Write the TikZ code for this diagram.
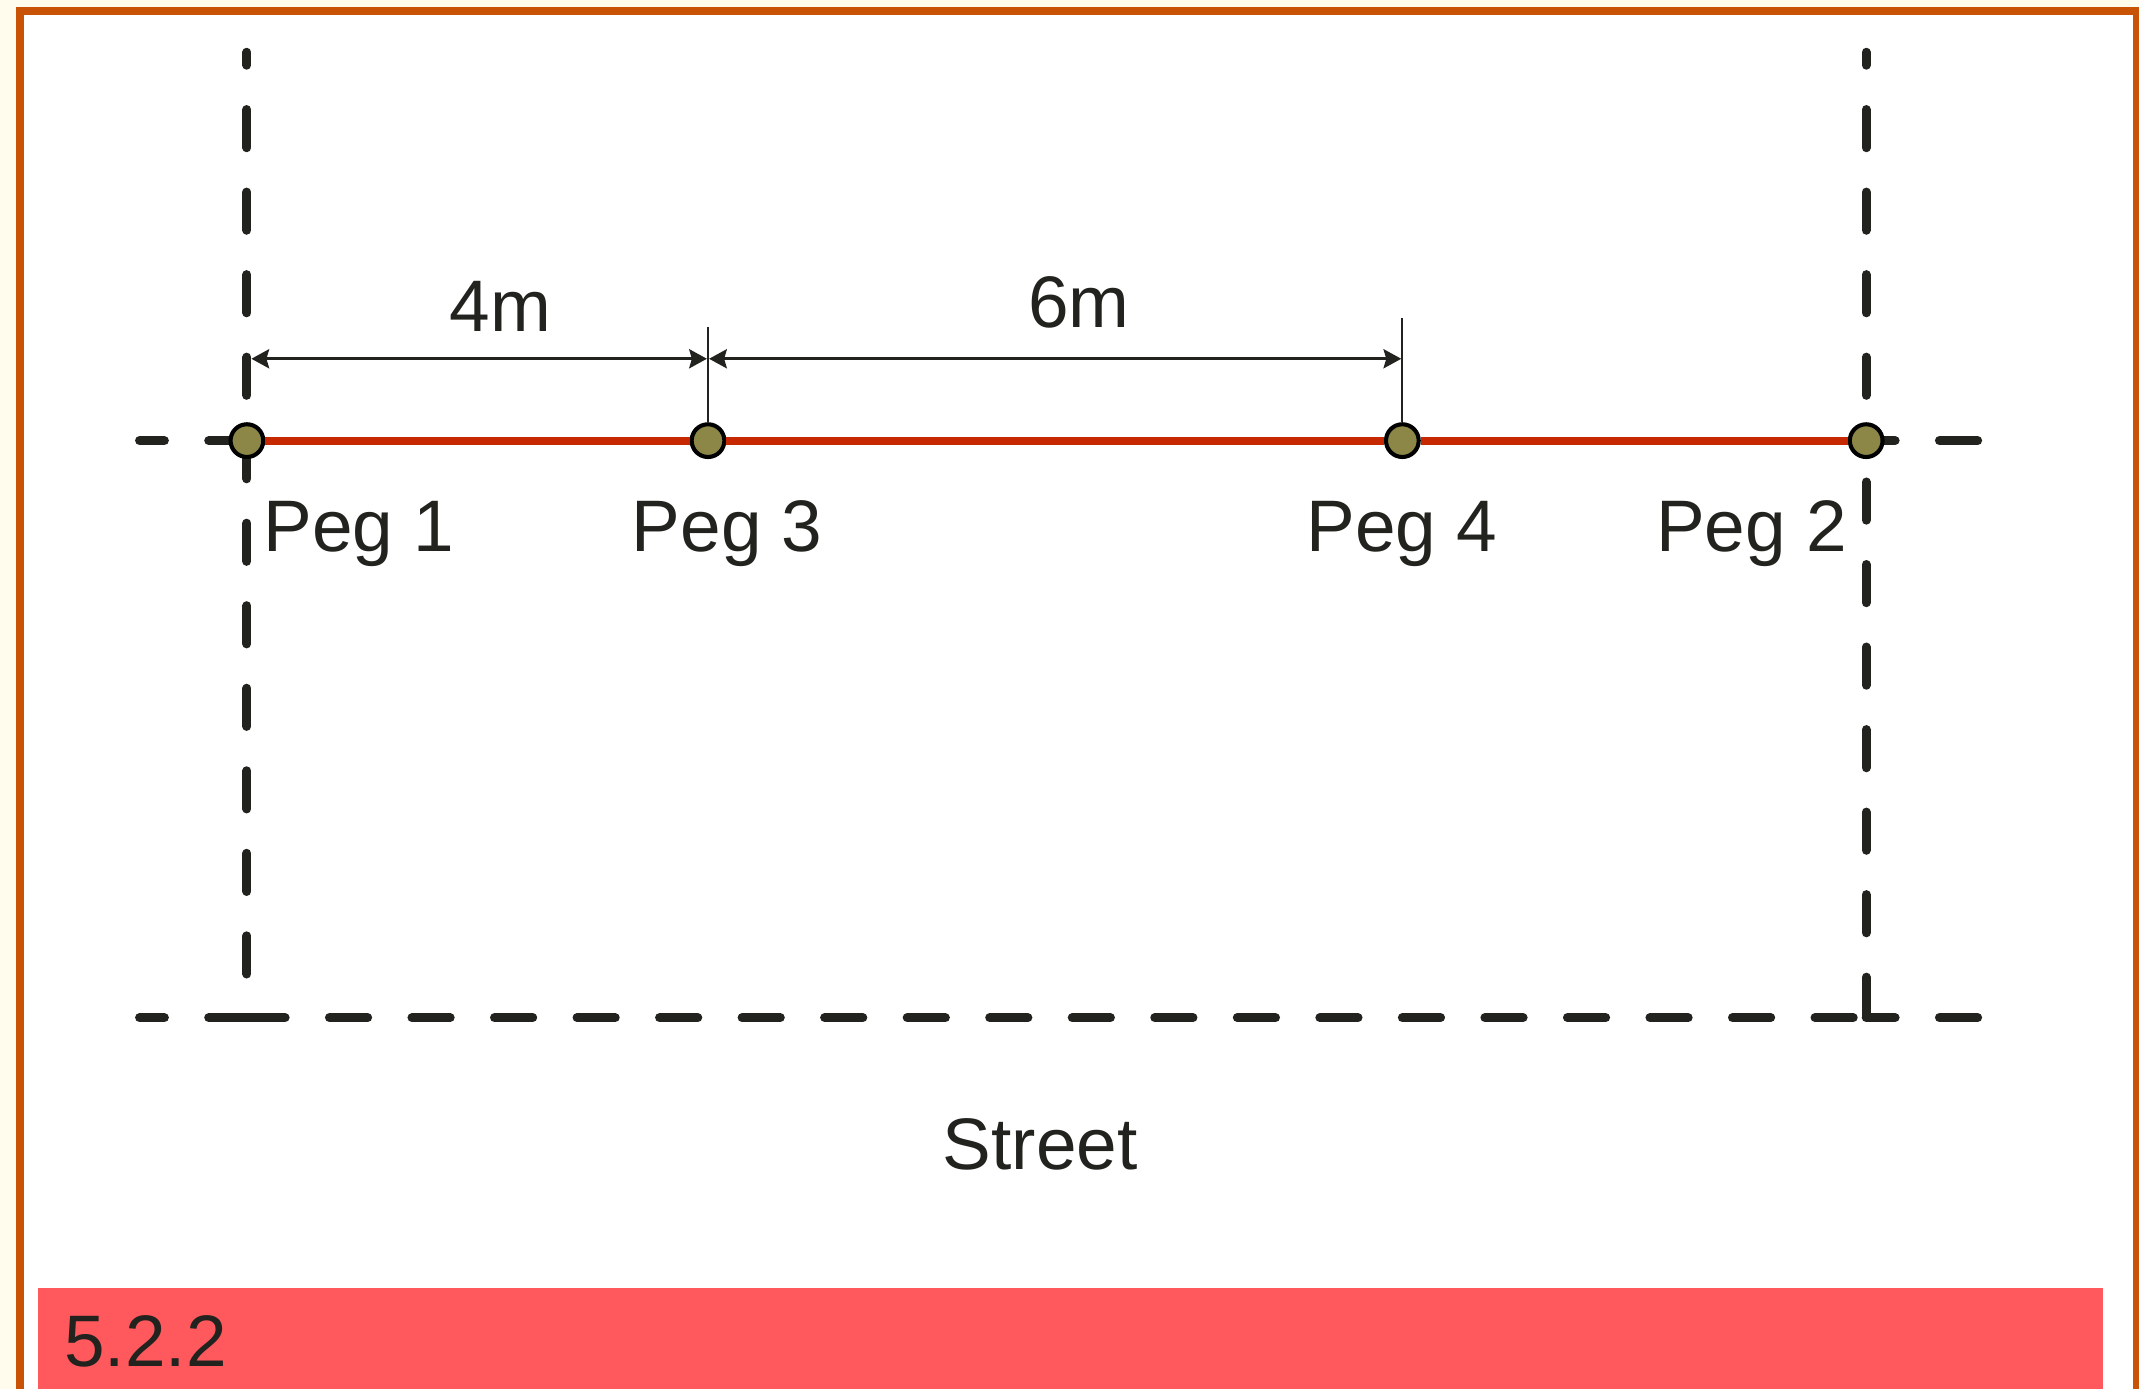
\documentclass[tikz,border=0pt]{standalone}
\usepackage{fontspec}
\setmainfont{Liberation Sans}
\usetikzlibrary{arrows.meta}
\definecolor{cream}{RGB}{255,251,237}
\definecolor{frameor}{RGB}{200,82,6}
\definecolor{ink}{RGB}{34,34,30}
\definecolor{redline}{RGB}{198,40,0}
\definecolor{pegfill}{RGB}{140,135,70}
\definecolor{barred}{RGB}{255,89,94}
\tikzset{
  dashline/.style={draw=ink, line width=6.6pt, line cap=round, dash pattern=on 28pt off 32.5pt},
  pegnode/.style={circle, draw=black, line width=3pt, fill=pegfill, minimum size=24pt, inner sep=0pt},
  lbl/.style={text=ink, font=\fontsize{53.5}{60}\selectfont, inner sep=0pt, anchor=base},
  dimline/.style={draw=ink, line width=2pt, {Stealth[length=13pt,width=14pt,inset=2pt]}-{Stealth[length=13pt,width=14pt,inset=2pt]}},
  tickline/.style={draw=ink, line width=1.6pt},
  redseg/.style={draw=redline, line width=6pt}
}
\begin{document}
\begin{tikzpicture}[x=1pt,y=-1pt]
\useasboundingbox (0,0) rectangle (1568,1018);
\clip (0,0) rectangle (1568,1018);
\fill[cream] (0,0) rectangle (1568,1018);
\draw[frameor, line width=6pt, fill=white] (14.7,8) rectangle (1566.7,1040);
\fill[barred] (28,944) rectangle (1541.8,1040);
% coordinates
\coordinate (vlt) at (181,38.3);
\coordinate (vlm) at (181,323);
\coordinate (vlb) at (181,746);
\coordinate (vrt) at (1368,38.3);
\coordinate (vrm) at (1368,323);
\coordinate (vrs) at (1368,353.3);
\coordinate (vrb) at (1368,746);
\coordinate (hml) at (102.3,323);
\coordinate (hmr) at (1449.7,323);
\coordinate (hbl) at (102.3,746);
\coordinate (hbr) at (1449.7,746);
% dashed boundary lines
\draw[dashline, dash phase=18.5pt] (vlt) -- (vlm);
\draw[dashline] (vlm) -- (vlb);
\draw[dashline, dash phase=18.5pt] (vrt) -- (vrm);
\draw[dashline] (vrs) -- (vrb);
\draw[dashline] (vlm) -- (hml);
\draw[dashline] (hmr) -- (vrm);
\draw[dashline] (vlb) -- (hbl);
\draw[dashline] (vlb) -- (vrb);
\draw[dashline] (hbr) -- (vrb);
% pegs
\node[pegnode] (p1) at (181,323) {};
\node[pegnode] (p3) at (519,323) {};
\node[pegnode] (p4) at (1028,323) {};
\node[pegnode] (p2) at (1368,323) {};
% red line
\draw[redseg] (p1.east) -- (p3.west);
\draw[redseg] (p3.east) -- (p4.west);
\draw[redseg] (p4.east) -- (p2.west);
% ticks
\coordinate (t3) at (519,239.5);
\coordinate (t4) at (1028,233);
\draw[tickline] (t3) -- (p3.north);
\draw[tickline] (t4) -- (p4.north);
% dimension lines
\coordinate (a1) at (184.3,263);
\coordinate (a3) at (519,263);
\coordinate (a4) at (1028,263);
\draw[dimline, shorten >=0.8pt] (a1) -- (a3);
\draw[dimline, shorten <=0.8pt, shorten >=0.8pt] (a3) -- (a4);
% labels
\node[lbl] (l4m) at (367,243) {4m};
\node[lbl] (l6m) at (791,240) {6m};
\node[lbl] (lp1) at (263,404) {Peg 1};
\node[lbl] (lp3) at (533,404) {Peg 3};
\node[lbl] (lp4) at (1027.5,404) {Peg 4};
\node[lbl] (lp2) at (1284,404) {Peg 2};
\node[lbl] (lst) at (762.5,857) {Street};
\node[lbl, anchor=base west] (lnum) at (47,1002) {5.2.2};
\end{tikzpicture}
\end{document}
